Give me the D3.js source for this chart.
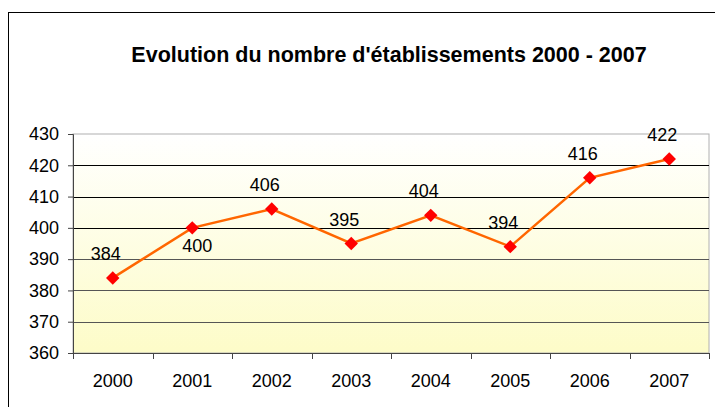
<!DOCTYPE html>
<html>
<head>
<meta charset="utf-8">
<script src="https://cdn.jsdelivr.net/npm/d3@7"></script>
<style>
  body { margin: 0; background: #fff; }
  text { font-family: "Liberation Sans", Arial, sans-serif; }
</style>
</head>
<body>
<div id="chart"></div>
<script>
// data
var years = ["2000", "2001", "2002", "2003", "2004", "2005", "2006", "2007"];
var etabs = [384, 400, 406, 395, 404, 394, 416, 422];
var yTicks = [360, 370, 380, 390, 400, 410, 420, 430];
var labelPos = ["above", "below", "above", "above", "above", "above", "above", "above"];
var titleText = "Evolution du nombre d'établissements 2000 - 2007";

var W = 715, H = 407;
var m = {top: 134, right: 6, bottom: 54, left: 73};
var w = W - m.left - m.right, h = H - m.top - m.bottom;

var svg = d3.select("#chart").append("svg")
  .attr("width", W).attr("height", H);

// outer frame
svg.append("rect")
  .attr("x", 8.5).attr("y", 12.5)
  .attr("width", W + 20).attr("height", H + 20)
  .attr("fill", "#fff").attr("stroke", "#000");

svg.append("text")
  .attr("x", 389).attr("y", 62)
  .attr("text-anchor", "middle")
  .attr("font-size", "21.5px").attr("font-weight", "bold")
  .text(titleText);

var defs = svg.append("defs");
var grad = defs.append("linearGradient").attr("id", "bg")
  .attr("x1", 0).attr("y1", 0).attr("x2", 0).attr("y2", 1);
grad.append("stop").attr("offset", "0%").attr("stop-color", "#ffffff");
grad.append("stop").attr("offset", "100%").attr("stop-color", "#fdfcc8");

var g = svg.append("g").attr("transform", "translate(" + m.left + "," + m.top + ")");

var x = d3.scaleBand().domain(years).range([0, w]);
var y = d3.scaleLinear().domain([360, 430]).range([h, 0]);

g.append("rect").attr("width", w).attr("height", h)
  .attr("fill", "url(#bg)").attr("stroke", "#b0b0b0");

// gridlines
g.selectAll(".grid").data(yTicks.slice(1, -1)).enter().append("line")
  .attr("class", "grid")
  .attr("x1", 0).attr("x2", w)
  .attr("y1", function(d) { return Math.round(y(d)) + 0.5; })
  .attr("y2", function(d) { return Math.round(y(d)) + 0.5; })
  .attr("stroke", function(d) { return d >= 400 ? "#000" : "#555"; });

// axes
var yAxis = g.append("g")
  .call(d3.axisLeft(y).tickValues(yTicks).tickSize(5).tickPadding(9));
yAxis.select(".domain").attr("stroke", "#444");
yAxis.selectAll(".tick line").attr("stroke", "#444");
yAxis.selectAll("text").attr("font-size", "18px").attr("fill", "#000")
  .attr("font-family", "Liberation Sans, Arial, sans-serif");

var xAxis = g.append("g").attr("transform", "translate(0," + h + ")")
  .call(d3.axisBottom(x).tickSize(0).tickPadding(21));
xAxis.select(".domain").attr("stroke", "#444");
xAxis.selectAll("text").attr("font-size", "18px").attr("fill", "#000")
  .attr("font-family", "Liberation Sans, Arial, sans-serif");

// category separators on x axis
g.selectAll(".xt").data(years.concat(["end"])).enter().append("line")
  .attr("x1", function(d, i) { return Math.round(i * x.step()) + 0.5; })
  .attr("x2", function(d, i) { return Math.round(i * x.step()) + 0.5; })
  .attr("y1", h).attr("y2", h + 6)
  .attr("stroke", "#444");

var cx = function(d, i) { return x(years[i]) + x.bandwidth() / 2; };

var line = d3.line()
  .x(function(d, i) { return cx(d, i); })
  .y(function(d) { return y(d); });

g.append("path").datum(etabs)
  .attr("d", line)
  .attr("fill", "none")
  .attr("stroke", "#ff6600")
  .attr("stroke-width", 2.5);

g.selectAll(".pt").data(etabs).enter().append("path")
  .attr("d", d3.symbol().type(d3.symbolDiamond2).size(115))
  .attr("transform", function(d, i) { return "translate(" + cx(d, i) + "," + y(d) + ")"; })
  .attr("fill", "#ff0000");

g.selectAll(".lbl").data(etabs).enter().append("text")
  .attr("x", function(d, i) { return cx(d, i) + (labelPos[i] === "below" ? 5 : -7); })
  .attr("y", function(d, i) { return y(d) + (labelPos[i] === "below" ? 24 : -18); })
  .attr("text-anchor", "middle")
  .attr("font-size", "18px")
  .text(function(d) { return d; });
</script>
</body>
</html>
